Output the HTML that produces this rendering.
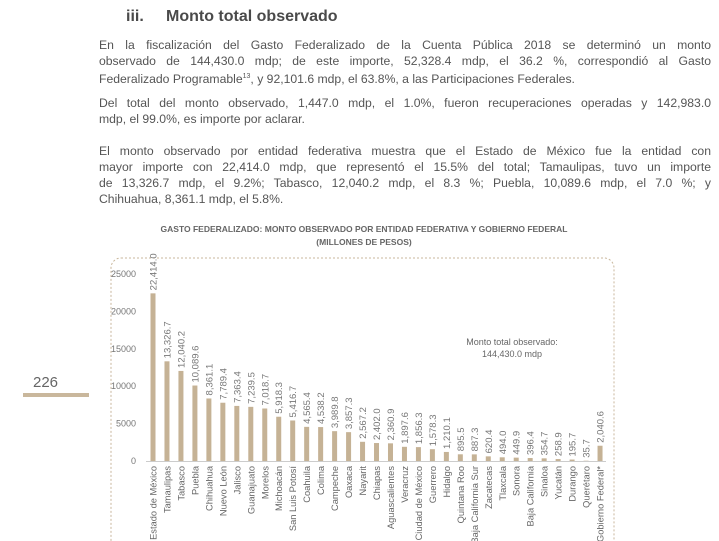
<!DOCTYPE html>
<html><head><meta charset="utf-8">
<style>
body{margin:0;width:719px;height:541px;overflow:hidden;background:#fff;font-family:"Liberation Sans",sans-serif;position:relative}
.h{position:absolute;left:126px;top:8px;font-size:16px;font-weight:bold;color:#4a4a4a}
.l{position:absolute;left:99px;width:612px;font-size:12.2px;line-height:16px;height:16px;color:#555;text-align:justify;text-align-last:justify;white-space:nowrap;overflow:visible}
.l.e{text-align-last:left}
.pn{position:absolute;left:33px;top:374px;font-size:15px;color:#666}
.pl{position:absolute;left:23px;top:393px;width:66px;height:4px;background:#c9b79c}
</style></head><body>
<div class="h">iii.&nbsp;&nbsp;&nbsp;&nbsp;&nbsp;Monto total observado</div>
<div>
<div class="l" style="top:37px;white-space:normal">En la fiscalización del Gasto Federalizado de la Cuenta Pública 2018 se determinó un monto</div>
<div class="l" style="top:53px;white-space:normal">observado de 144,430.0 mdp; de este importe, 52,328.4 mdp, el 36.2 %, correspondió al Gasto</div>
<div class="l e" style="top:69px">Federalizado Programable<sup style="font-size:7px">13</sup>, y 92,101.6 mdp, el 63.8%, a las Participaciones Federales.</div>
</div>
<div>
<div class="l" style="top:95px;white-space:normal">Del total del monto observado, 1,447.0 mdp, el 1.0%, fueron recuperaciones operadas y 142,983.0</div>
<div class="l e" style="top:111px">mdp, el 99.0%, es importe por aclarar.</div>
</div>
<div>
<div class="l" style="top:143px;white-space:normal">El monto observado por entidad federativa muestra que el Estado de México fue la entidad con</div>
<div class="l" style="top:159px;white-space:normal">mayor importe con 22,414.0 mdp, que representó el 15.5% del total; Tamaulipas, tuvo un importe</div>
<div class="l" style="top:175px;white-space:normal">de 13,326.7 mdp, el 9.2%; Tabasco, 12,040.2 mdp, el 8.3 %; Puebla, 10,089.6 mdp, el 7.0 %; y</div>
<div class="l e" style="top:191px">Chihuahua, 8,361.1 mdp, el 5.8%.</div>
</div>
<div class="pn">226</div>
<div class="pl"></div>
<svg id="c" width="719" height="541" style="position:absolute;left:0;top:0">
<text x="364" y="232" text-anchor="middle" font-size="8.5" font-weight="bold" fill="#666">GASTO FEDERALIZADO: MONTO OBSERVADO POR ENTIDAD FEDERATIVA Y GOBIERNO FEDERAL</text>
<text x="364" y="245" text-anchor="middle" font-size="8.5" font-weight="bold" fill="#666">(MILLONES DE PESOS)</text>
<rect x="111" y="258" width="503" height="300" rx="10" fill="none" stroke="#c9b79c" stroke-dasharray="2,2"/>
<text x="512" y="345" text-anchor="middle" font-size="9" fill="#666">Monto total observado:</text>
<text x="512" y="357" text-anchor="middle" font-size="9" fill="#666">144,430.0 mdp</text>
</svg>
<script>
const categories=["Estado de México","Tamaulipas","Tabasco","Puebla","Chihuahua","Nuevo León","Jalisco","Guanajuato","Morelos","Michoacán","San Luis Potosí","Coahuila","Colima","Campeche","Oaxaca","Nayarit","Chiapas","Aguascalientes","Veracruz","Ciudad de México","Guerrero","Hidalgo","Quintana Roo","Baja California Sur","Zacatecas","Tlaxcala","Sonora","Baja California","Sinaloa","Yucatán","Durango","Querétaro","Gobierno Federal*"];
const values=[22414.0,13326.7,12040.2,10089.6,8361.1,7789.4,7363.4,7239.5,7018.7,5918.3,5416.7,4565.4,4538.2,3989.8,3857.3,2567.2,2402.0,2360.9,1897.6,1856.3,1578.3,1210.1,895.5,887.3,620.4,494.0,449.9,396.4,354.7,258.9,195.7,35.7,2040.6];
const yTicks=[0,5000,10000,15000,20000,25000];
const svg=document.getElementById('c');const NS='http://www.w3.org/2000/svg';
const y0=461,yTop=274,yMax=25000,x0=153,step=13.97;
const y=v=>y0-(v/yMax)*(y0-yTop);
const x=i=>x0+i*step;
function mk(t,a){const e=document.createElementNS(NS,t);for(const k in a)e.setAttribute(k,a[k]);svg.appendChild(e);return e;}
const fmt=v=>v.toLocaleString('en-US',{minimumFractionDigits:1,maximumFractionDigits:1});
yTicks.forEach(t=>{const e=mk('text',{x:136,y:y(t)+3,'text-anchor':'end','font-size':9,fill:'#777'});e.textContent=t;

});
const ax=mk('line',{x1:146,x2:606,y1:y0+0.5,y2:y0+0.5,stroke:'#ccc'});


categories.forEach((c,i)=>{
const b=mk('rect',{x:x(i)-2.5,y:y(values[i]),width:5,height:y0-y(values[i]),fill:'#c5b295'});


const vt=mk('text',{transform:`translate(${x(i)+3.5},${y(values[i])-3}) rotate(-90)`,'font-size':9.5,fill:'#777'});vt.textContent=fmt(values[i]);


const ct=mk('text',{transform:`translate(${x(i)+3.5},${y0+5}) rotate(-90)`,'font-size':9.3,'text-anchor':'end',fill:'#666'});ct.textContent=c;


});
</script>
</body></html>
